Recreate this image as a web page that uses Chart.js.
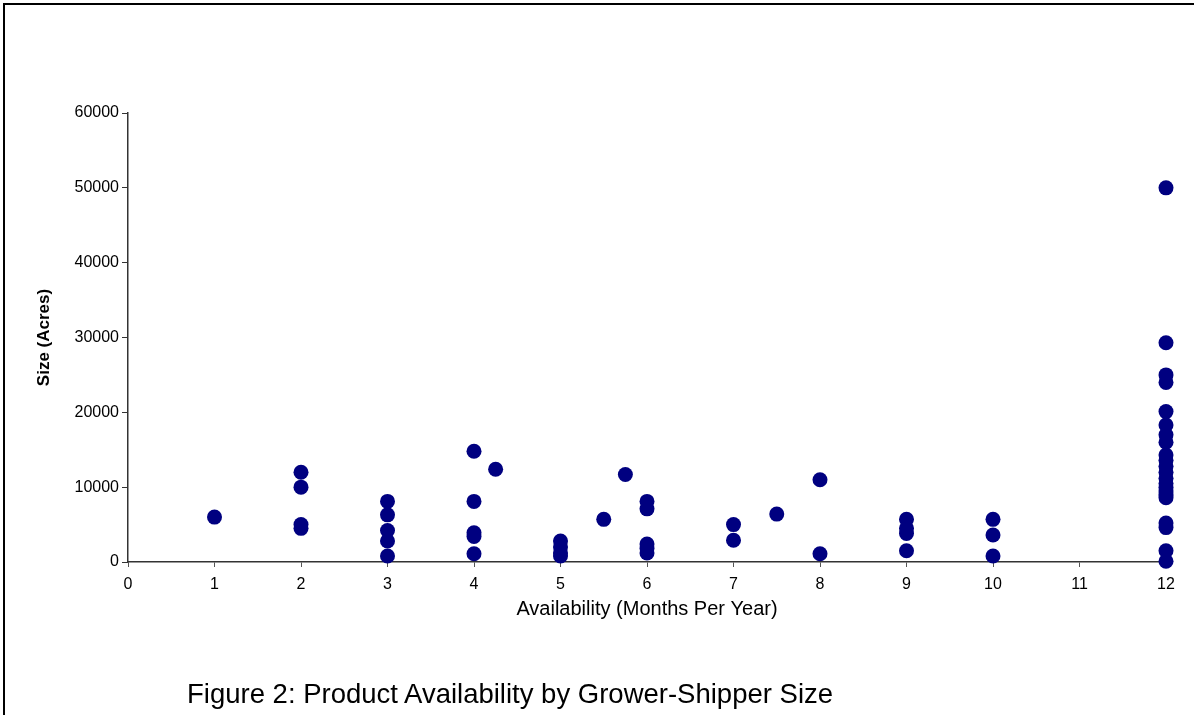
<!DOCTYPE html>
<html>
<head>
<meta charset="utf-8">
<script src="https://cdn.jsdelivr.net/npm/chart.js@4/dist/chart.umd.min.js"></script>
<style>
  html, body { margin: 0; background: #fff; overflow: hidden; }
  #wrap { position: relative; width: 1194px; height: 715px; overflow: hidden; }
  #frame { position: absolute; left: 3px; top: 3px; width: 1300px; height: 800px;
           border-top: 2px solid #000; border-left: 2px solid #000; pointer-events: none; }
  #caption { position: absolute; left: 187px; top: 680px; font: 27.5px "Liberation Sans", Arial, sans-serif;
             color: #000; white-space: nowrap; line-height: 1; }
</style>
</head>
<body>
<div id="wrap">
  <canvas id="scatterChart" width="1194" height="715"></canvas>
  <div id="frame"></div>
  <div id="caption">Figure 2: Product Availability by Grower-Shipper Size</div>
</div>
<script>
// months of availability and farm size (acres), one entry per grower-shipper
const months = [
  1,
  2, 2, 2, 2,
  3, 3, 3, 3, 3,
  4, 4, 4, 4, 4,
  4.25,
  5, 5, 5, 5,
  5.5,
  5.75,
  6, 6, 6, 6, 6,
  7, 7,
  7.5,
  8, 8,
  9, 9, 9, 9,
  10, 10, 10,
  12, 12, 12, 12, 12, 12, 12, 12, 12, 12, 12, 12, 12, 12, 12, 12, 12, 12, 12, 12, 12, 12
];
const acres = [
  6000,
  12000, 10000, 5000, 4500,
  8100, 6300, 4200, 2800, 800,
  14800, 8100, 3900, 3400, 1100,
  12400,
  2800, 2000, 1200, 800,
  5700,
  11700,
  8100, 7100, 2400, 1800, 1200,
  5000, 2900,
  6400,
  11000, 1100,
  5700, 4500, 3800, 1500,
  5700, 3600, 800,
  50000, 29300, 25000, 24000, 20100, 18300, 17000, 16000, 14300, 13600, 12800, 12000,
  11200, 10500, 10000, 9500, 9000, 8600, 5200, 4600, 1500, 100
];
const xTicks = [0, 1, 2, 3, 4, 5, 6, 7, 8, 9, 10, 11, 12];
const yTicks = [0, 10000, 20000, 30000, 40000, 50000, 60000];

function drawChart() {
  const ctx = document.getElementById('scatterChart').getContext('2d');
  const points = months.map((m, i) => ({ x: m, y: acres[i] }));
  const font = { family: '"Liberation Sans", Arial, sans-serif', size: 16 };

  new Chart(ctx, {
    type: 'scatter',
    data: {
      datasets: [{
        label: 'Growers',
        data: points,
        backgroundColor: '#000080',
        borderColor: '#000080',
        borderWidth: 0,
        pointRadius: 7.5,
        clip: false,
      }],
    },
    options: {
      responsive: false,
      animation: false,
      layout: { padding: { left: 0, top: 113, right: 28, bottom: 93 } },
      plugins: { legend: { display: false }, tooltip: { enabled: false } },
      scales: {
        x: {
          type: 'linear',
          min: xTicks[0],
          max: xTicks[xTicks.length - 1],
          afterBuildTicks: (s) => { s.ticks = xTicks.map(v => ({ value: v })); },
          afterFit: (s) => { s.height = 60; },
          grid: { drawOnChartArea: false, tickLength: 5, tickColor: '#555' },
          border: { color: '#333', width: 1.5 },
          ticks: { color: '#000', font: font, padding: 8, maxRotation: 0 },
          title: {
            display: true,
            text: 'Availability (Months Per Year)',
            color: '#000',
            font: { family: '"Liberation Sans", Arial, sans-serif', size: 20 },
            padding: { top: 0, bottom: 1 },
          },
        },
        y: {
          min: yTicks[0],
          max: yTicks[yTicks.length - 1],
          afterBuildTicks: (s) => { s.ticks = yTicks.map(v => ({ value: v })); },
          afterFit: (s) => { s.width = 128; },
          grid: { drawOnChartArea: false, tickLength: 6, tickColor: '#333' },
          border: { color: '#333', width: 1.5 },
          ticks: { color: '#000', font: font, padding: 3, callback: (v) => String(v) },
          title: {
            display: true,
            text: 'Size (Acres)',
            color: '#000',
            font: { family: '"Liberation Sans", Arial, sans-serif', size: 17, weight: 'bold' },
            padding: { top: 34, bottom: 0 },
          },
        },
      },
    },
  });
}

drawChart();
</script>
</body>
</html>
